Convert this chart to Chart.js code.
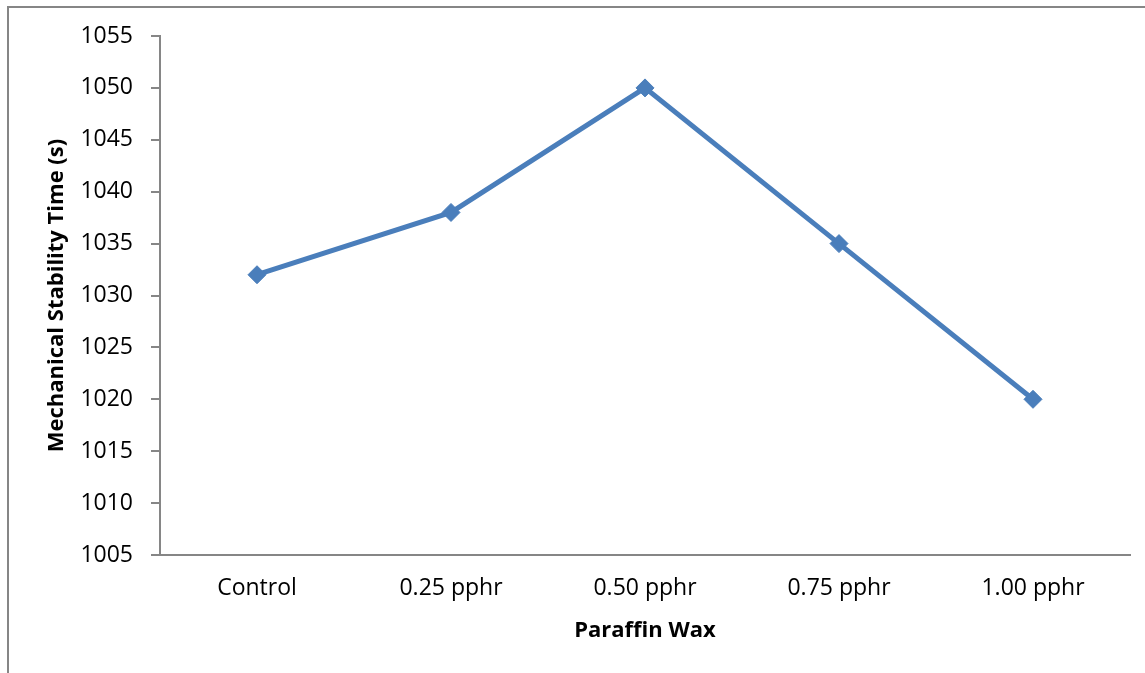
<!DOCTYPE html>
<html>
<head>
<meta charset="utf-8">
<script src="https://cdn.jsdelivr.net/npm/chart.js@4.4.1/dist/chart.umd.min.js"></script>
<style>
  html, body { margin: 0; padding: 0; background: #ffffff; }
  #wrap { position: relative; width: 1145px; height: 673px; }
</style>
</head>
<body>
<div id="wrap"><canvas id="chart" width="1145" height="673"></canvas></div>
<script>
// Mechanical stability time for each paraffin wax loading
const categories = ['Control', '0.25 pphr', '0.50 pphr', '0.75 pphr', '1.00 pphr'];
const stabilityTime = [1032, 1038, 1050, 1035, 1020];
const yMin = 1005;
const yMax = 1055;
const yStep = 5;

const AXIS_GREY = '#868686';
const SERIES_BLUE = '#4A7EBB';
const FONT = '"Open Sans", "Liberation Sans", sans-serif';

// Thin grey frame around the whole chart (runs off the right and bottom edges)
const framePlugin = {
  id: 'frame',
  beforeDraw(chart) {
    const ctx = chart.ctx;
    ctx.save();
    ctx.fillStyle = '#ffffff';
    ctx.fillRect(0, 0, chart.width, chart.height);
    ctx.strokeStyle = AXIS_GREY;
    ctx.lineWidth = 2;
    ctx.strokeRect(8, 7, chart.width + 20, chart.height + 20);
    ctx.restore();
  }
};

new Chart(document.getElementById('chart'), {
  type: 'line',
  data: {
    labels: categories,
    datasets: [{
      label: 'Mechanical Stability Time (s)',
      data: stabilityTime,
      borderColor: SERIES_BLUE,
      backgroundColor: SERIES_BLUE,
      borderWidth: 5,
      pointStyle: 'rectRot',
      pointRadius: 9,
      pointBorderWidth: 1,
      pointBackgroundColor: SERIES_BLUE,
      pointBorderColor: SERIES_BLUE,
      tension: 0,
      fill: false
    }]
  },
  options: {
    responsive: false,
    animation: false,
    layout: { padding: { top: 36, right: 15, left: 0, bottom: 0 } },
    plugins: {
      legend: { display: false },
      tooltip: { enabled: false }
    },
    scales: {
      x: {
        type: 'category',
        offset: true,
        grid: { display: false, drawTicks: false },
        border: { display: true, color: AXIS_GREY, width: 2 },
        ticks: {
          color: '#000000',
          padding: 20,
          maxRotation: 0,
          font: { family: FONT, size: 23 }
        },
        title: {
          display: true,
          text: 'Paraffin Wax',
          color: '#000000',
          font: { family: FONT, size: 22, weight: 'bold' },
          padding: { top: 0, bottom: 29 }
        },
        afterFit(scale) { scale.height = 118; }
      },
      y: {
        min: yMin,
        max: yMax,
        grid: {
          drawOnChartArea: false,
          drawTicks: true,
          tickLength: 9,
          color: AXIS_GREY,
          lineWidth: 2
        },
        border: { display: true, color: AXIS_GREY, width: 2 },
        ticks: {
          stepSize: yStep,
          color: '#000000',
          padding: 18,
          font: { family: FONT, size: 23 },
          callback: (value) => String(value)
        },
        title: {
          display: true,
          text: 'Mechanical Stability Time (s)',
          color: '#000000',
          font: { family: FONT, size: 22, weight: 'bold' },
          padding: { top: 44, bottom: 0 }
        },
        afterFit(scale) { scale.width = 160; }
      }
    }
  },
  plugins: [framePlugin]
});
</script>
</body>
</html>
